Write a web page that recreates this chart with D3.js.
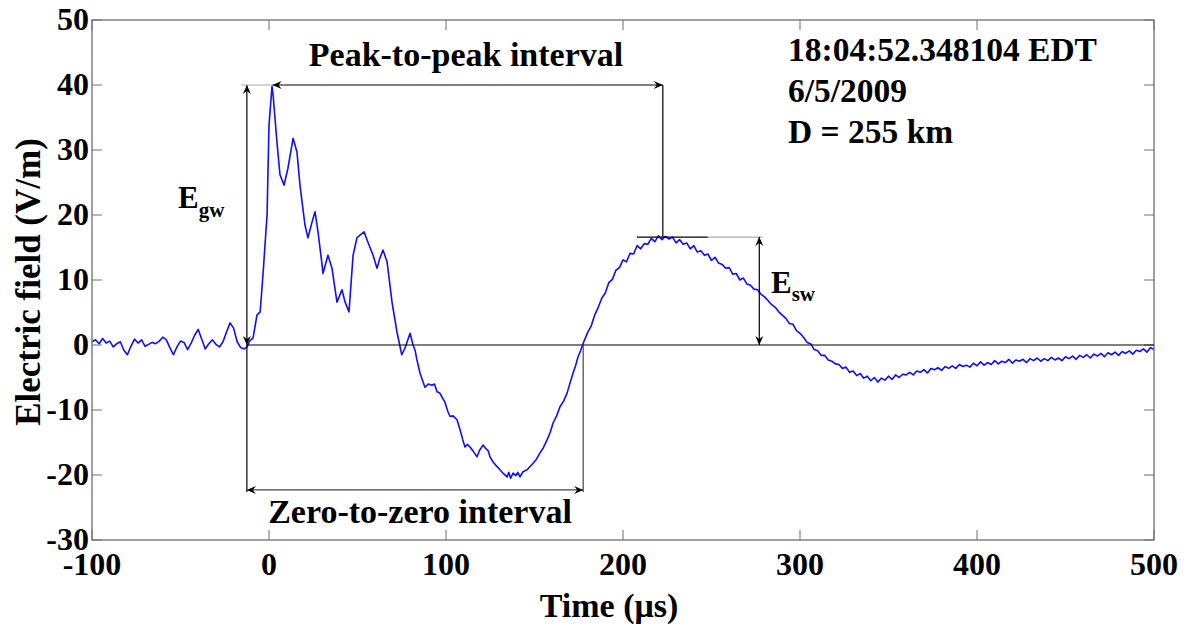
<!DOCTYPE html>
<html>
<head>
<meta charset="utf-8">
<script src="https://cdn.jsdelivr.net/npm/d3@7"></script>
<style>
  body { margin: 0; background: #fff; }
  text { font-family: "Liberation Serif", "Times New Roman", serif; font-weight: bold; fill: #000; }
</style>
</head>
<body>
<div id="chart"></div>
<script>
// electric field waveform (time in us, field in V/m)
var preStroke = [
  [-100,0.5],[-98,0.8],[-96,0.2],[-94,1.0],[-92,0.3],[-90,0.6],[-88,-0.3],[-86,0.2],[-84,0.5],[-82,-0.8],
  [-80,-1.5],[-78,-0.2],[-76,0.9],[-74,0.3],[-72,0.8],[-70,-0.2],[-68,0.1],[-66,0.4],[-64,0.2],[-62,0.6],
  [-60,1.2],[-58,0.8],[-56,-0.4],[-54,-1.5],[-52,-0.3],[-50,0.6],[-48,0.4],[-46,-0.7],[-44,0.3],[-42,1.5],
  [-40,2.4],[-38,0.9],[-36,-0.6],[-34,0.2],[-32,0.8],[-30,0.1],[-28,-0.3],[-26,0.5],[-24,2.0],[-22,3.4],
  [-20,2.6],[-18,0.5],[-16,-0.4],[-14,-0.6],[-12.4,-0.3]
];

var groundWave = [
  [-11,0.6],[-9,1.1],[-6.8,4.6],[-5,5.1],[-3.4,10.8],[-1.1,20],[0,33.8],[1.7,39.8],[2.3,38.5],[4.5,31.2],
  [6.2,26.2],[8.5,24.6],[10.7,27.2],[13.6,31.8],[15.8,29.7],[17.5,24.6],[20.3,18.5],[22,16.5],[24.3,18.9],[26,20.5],
  [27.7,17.4],[30,12.3],[30.5,11],[33.3,13.8],[35.6,11.8],[38.4,6.6],[41.2,8.5],[43,6.6],[45.2,5.1],[47.5,13.8],
  [49.7,16.5],[51.4,16.9],[53.7,17.4],[55.9,15.8],[58.8,13.8],[61,11.8],[62.7,13.4],[64.4,14.6],[66.7,12.8],[69.5,6.6],
  [72.3,2],[75,-1.5],[76.8,-0.5],[79.7,1.8],[81.4,0],[82.5,-0.8],[83.6,-2.3],[85.3,-4.3],[88.1,-6.5],[90,-6.0],
  [92,-6.2],[93.5,-6.0],[94.9,-7.2],[96.5,-7.4],[97.7,-8],[99.4,-8.8],[101,-10.2],[102.3,-11],[104,-10.9],[106.2,-11.5],
  [107.9,-13],[109.5,-14.6],[110.7,-15.7],[112,-15.3],[113.6,-15.7],[115.5,-16.4],[117.5,-17.2],[119,-16.2],[120.9,-15.4],[122.3,-15.9],
  [123.7,-16.2],[125,-17.3],[126.6,-18],[128.5,-18.6],[130.5,-19.2],[132.5,-19.8],[134.5,-20.3],[135.5,-19.6],[136.5,-20.5],[137.9,-19.7],
  [139.5,-20.1],[140.5,-19.6],[141.8,-20.3],[143.5,-19.5],[145.8,-19.2],[147.5,-18.7],[149.2,-18.2],[151,-17.6],[153.1,-16.6],[155,-15.8],
  [157.1,-14.6],[158.8,-13.5],[160.5,-12],[162.5,-10.9],[164.4,-9.5],[166.5,-8.6],[168.4,-7.4],[170,-5.9],[171.8,-4.3],[173.2,-3.2],
  [174.6,-1.8],[176,-0.9]
];

var skyWave = [
  [178,0.6],[180,1.9],[182,2.9],[184,4.6],[186,5.8],[188,7.2],[190,8.0],[192,9.6],[194,10.1],[196,11.5],
  [198,11.9],[200,13.1],[202,12.8],[204,14.1],[206,14.0],[208,15.3],[210,14.8],[212,15.6],[214,15.5],[216,16.4],
  [218,15.9],[220,16.8],[222,16.2],[224,16.7],[226,16.3],[228,16.6],[230,15.7],[232,16.2],[234,15.5],[236,15.7],
  [238,14.8],[240,15.3],[242,14.3],[244,14.5],[246,13.8],[248,14.0],[250,13.0],[252,13.5],[254,12.6],[256,12.4],
  [258,11.8],[260,11.9],[262,10.9],[264,11.0],[266,10.0],[268,10.3],[270,9.4],[272,9.2],[274,8.6],[276,8.5],
  [278,7.8],[280,7.4],[282,6.8],[284,6.2],[286,5.8],[288,5.1],[290,4.6],[292,4.1],[294,3.3],[296,3.2],
  [298,2.2],[300,1.8],[302,1.2],[304,0.4],[306,0.2],[308,-0.7],[310,-0.9],[312,-1.6],[314,-1.6],[316,-2.3],
  [318,-2.5],[320,-2.9],[322,-3.0],[324,-3.6],[326,-3.4],[328,-4.2],[330,-4.0],[332,-4.7],[334,-4.4],[336,-5.1],
  [338,-4.8],[340,-5.5],[342,-5.0],[344,-5.7],[346,-5.1],[348,-5.4],[350,-4.8],[352,-5.3],[354,-4.6],[356,-5.0],
  [358,-4.5],[360,-4.6],[362,-4.2],[364,-4.6],[366,-4.0],[368,-4.2],[370,-3.8],[372,-4.3],[374,-3.6],[376,-3.8],
  [378,-3.5],[380,-3.9],[382,-3.3],[384,-3.6],[386,-3.2],[388,-3.6],[390,-3.0],[392,-3.3],[394,-3.1],[396,-3.4],
  [398,-2.8],[400,-3.2],[402,-2.6],[404,-3.1],[406,-2.7],[408,-3.0],[410,-2.4],[412,-2.9],[414,-2.5],[416,-2.7],
  [418,-2.2],[420,-2.8],[422,-2.3],[424,-2.5],[426,-2.2],[428,-2.7],[430,-2.1],[432,-2.4],[434,-2.0],[436,-2.5],
  [438,-2.1],[440,-2.4],[442,-1.9],[444,-2.3],[446,-2.0],[448,-2.4],[450,-1.8],[452,-2.1],[454,-1.7],[456,-2.2],
  [458,-1.6],[460,-1.9],[462,-1.5],[464,-2.0],[466,-1.4],[468,-1.7],[470,-1.3],[472,-1.8],[474,-1.2],[476,-1.5],
  [478,-1.1],[480,-1.6],[482,-1.0],[484,-1.3],[486,-0.9],[488,-1.4],[490,-0.8],[492,-1.0],[494,-0.6],[496,-1.1],
  [498,-0.4],[500,-0.7]
];

var xTicks = [-100, 0, 100, 200, 300, 400, 500];
var yTicks = [-30, -20, -10, 0, 10, 20, 30, 40, 50];
var infoLines = ["18:04:52.348104 EDT", "6/5/2009", "D = 255 km"];

// annotation anchors (data units)
var tOnset = -12.5, tPeak = 2, tSkyPeak = 222.5, tZero = 177.5, tEsw = 277;
var ePeak = 40, eSky = 16.6, eLow = -22.6, eArrow = -22.3;

var W = 1185, H = 629;
var x = d3.scaleLinear().domain([-100, 500]).range([92, 1154]);
var y = d3.scaleLinear().domain([-30, 50]).range([540, 20]);

var svg = d3.select("#chart").append("svg")
    .attr("width", W)
    .attr("height", H);

var defs = svg.append("defs");
defs.append("marker")
    .attr("id", "head")
    .attr("viewBox", "-10 -5 11 10")
    .attr("refX", 0).attr("refY", 0)
    .attr("markerWidth", 11).attr("markerHeight", 10)
    .attr("markerUnits", "userSpaceOnUse")
    .attr("orient", "auto-start-reverse")
    .append("path")
    .attr("d", "M0,0 L-9,-4 L-6,0 L-9,4 Z")
    .attr("fill", "#000");

// waveform
var wave = preStroke.concat(groundWave, skyWave);
var line = d3.line()
    .x(function(d) { return x(d[0]); })
    .y(function(d) { return y(d[1]); });

svg.append("path")
    .datum(wave)
    .attr("d", line)
    .attr("fill", "none")
    .attr("stroke", "#1010f0")
    .attr("stroke-width", 1.6)
    .attr("stroke-linejoin", "round");

// box + inward ticks, matlab style
var axisColor = "#6e6e6e";
var box = svg.append("g");
box.append("rect")
    .attr("x", x(-100)).attr("y", y(50))
    .attr("width", x(500) - x(-100)).attr("height", y(-30) - y(50))
    .attr("fill", "none").attr("stroke", axisColor).attr("stroke-width", 1.3);

var tl = 10;
xTicks.forEach(function(t) {
    box.append("line").attr("x1", x(t)).attr("x2", x(t)).attr("y1", y(-30)).attr("y2", y(-30) - tl)
        .attr("stroke", axisColor);
    box.append("line").attr("x1", x(t)).attr("x2", x(t)).attr("y1", y(50)).attr("y2", y(50) + tl)
        .attr("stroke", axisColor);
    svg.append("text").attr("x", x(t)).attr("y", 575).attr("text-anchor", "middle")
        .attr("font-size", 32).text(t);
});
yTicks.forEach(function(v) {
    box.append("line").attr("x1", x(-100)).attr("x2", x(-100) + tl).attr("y1", y(v)).attr("y2", y(v))
        .attr("stroke", axisColor);
    box.append("line").attr("x1", x(500)).attr("x2", x(500) - tl).attr("y1", y(v)).attr("y2", y(v))
        .attr("stroke", axisColor);
    svg.append("text").attr("x", 89).attr("y", y(v) + 10).attr("text-anchor", "end")
        .attr("font-size", 32).text(v);
});

svg.append("text").attr("x", 609).attr("y", 617).attr("text-anchor", "middle")
    .attr("font-size", 34).text("Time (\u03bcs)");
svg.append("text").attr("transform", "translate(40,282) rotate(-90)").attr("text-anchor", "middle")
    .attr("font-size", 35).text("Electric field (V/m)");

// annotation lines
var ann = svg.append("g").attr("stroke-width", 1.2);
function seg(x1, y1, x2, y2, col) {
    return ann.append("line").attr("x1", x1).attr("y1", y1).attr("x2", x2).attr("y2", y2)
        .attr("stroke", col || "#000");
}
// zero reference
seg(x(tOnset), y(0), x(500), y(0));
// onset vertical: E_gw arrow and lower part
seg(x(tOnset), y(ePeak), x(tOnset), y(0)).attr("marker-start", "url(#head)").attr("marker-end", "url(#head)");
seg(x(tOnset), y(0), x(tOnset), y(eLow));
// peak level extension
seg(x(tOnset) - 6, y(ePeak), x(tPeak), y(ePeak), "#aaa");
// peak-to-peak
seg(x(tPeak), y(ePeak), x(tSkyPeak), y(ePeak)).attr("marker-start", "url(#head)").attr("marker-end", "url(#head)");
seg(x(tSkyPeak), y(ePeak), x(tSkyPeak), y(eSky));
// sky-wave peak level
seg(x(tSkyPeak) - 26, y(eSky), x(tSkyPeak) + 45, y(eSky));
seg(x(tSkyPeak) + 45, y(eSky), x(tEsw) + 3, y(eSky), "#aaa");
// E_sw arrow
seg(x(tEsw), y(eSky), x(tEsw), y(0)).attr("marker-start", "url(#head)").attr("marker-end", "url(#head)");
// zero-to-zero
seg(x(tZero), y(0), x(tZero), y(eLow), "#444");
seg(x(tOnset), y(eArrow), x(tZero), y(eArrow), "#444").attr("marker-start", "url(#head)").attr("marker-end", "url(#head)");

// labels
svg.append("text").attr("x", 466).attr("y", 66).attr("text-anchor", "middle")
    .attr("font-size", 34).text("Peak-to-peak interval");
svg.append("text").attr("x", 420).attr("y", 523).attr("text-anchor", "middle")
    .attr("font-size", 34).text("Zero-to-zero interval");

var egw = svg.append("text").attr("x", 178).attr("y", 208).attr("font-size", 31);
egw.append("tspan").text("E");
egw.append("tspan").attr("font-size", 21).attr("dy", 9).text("gw");
var esw = svg.append("text").attr("x", 771).attr("y", 293).attr("font-size", 31);
esw.append("tspan").text("E");
esw.append("tspan").attr("font-size", 21).attr("dy", 8).text("sw");

svg.selectAll("text.info")
    .data(infoLines)
    .enter().append("text")
    .attr("class", "info")
    .attr("x", 788)
    .attr("y", function(d, i) { return 61 + i * 41; })
    .attr("font-size", 33.5)
    .text(function(d) { return d; });
</script>
</body>
</html>
